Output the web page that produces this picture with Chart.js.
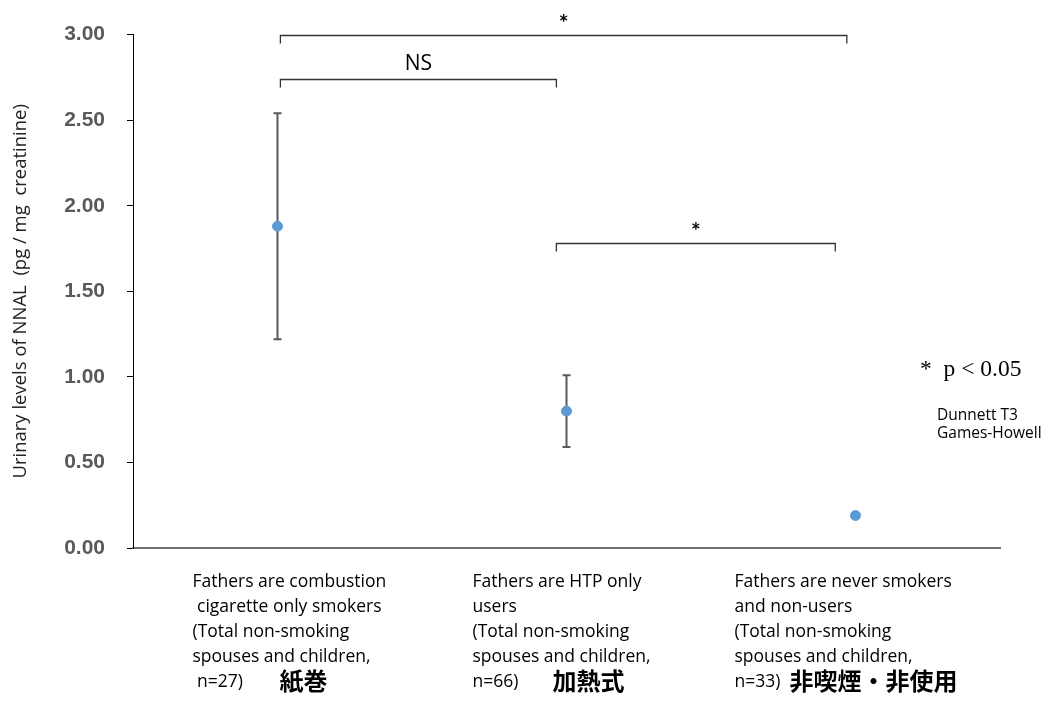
<!DOCTYPE html>
<html>
<head>
<meta charset="utf-8">
<script src="https://cdn.jsdelivr.net/npm/chart.js@4.4.1/dist/chart.umd.min.js"></script>
<style>
    html, body { margin: 0; padding: 0; background: #fff; }
    #wrap { width: 1049px; height: 706px; position: relative; }
</style>
</head>
<body>
<div id="wrap"><canvas id="nnalChart"></canvas></div>
<script>
// ---- data ----
const groups = ['紙巻', '加熱式', '非喫煙・非使用'];
const groupLabels = [
    ['Fathers are combustion', ' cigarette only smokers', '(Total non-smoking', 'spouses and children,', ' n=27)'],
    ['Fathers are HTP only', 'users', '(Total non-smoking', 'spouses and children,', 'n=66)'],
    ['Fathers are never smokers', 'and non-users', '(Total non-smoking', 'spouses and children,', 'n=33)']
];
const means = [1.88, 0.80, 0.19];
const errLow = [1.22, 0.59, 0.18];
const errHigh = [2.54, 1.01, 0.20];
const yTicks = [0, 0.5, 1.0, 1.5, 2.0, 2.5, 3.0];

// comparisons: [from group, to group, bracket level, label]
const compFrom = [0, 0, 1];
const compTo = [2, 1, 2];
const compLevel = [3.00, 2.74, 1.78];
const compText = ['*', 'NS', '*'];

// ---- layout (pixels) ----
const labelOffsetX = [-85, -94, -121];   // left edge of the english label relative to group centre
const jpOffsetX = [2, -14, -66];         // left edge of the japanese label relative to group centre
const bracketInset = [[0.01, -0.03], [0.01, -0.035], [-0.035, -0.07]];

const pointColor = '#5b9bd5';
const errColor = '#595959';

const errorBars = {
    id: 'errorBars',
    beforeDatasetsDraw(chart) {
        const { ctx, scales: { x, y } } = chart;
        ctx.save();
        ctx.strokeStyle = errColor;
        ctx.lineWidth = 2;
        means.forEach((m, i) => {
            const px = x.getPixelForValue(i + 0.5);
            const top = y.getPixelForValue(errHigh[i]);
            const bot = y.getPixelForValue(errLow[i]);
            ctx.beginPath();
            ctx.moveTo(px, top); ctx.lineTo(px, bot);
            ctx.moveTo(px - 4, top); ctx.lineTo(px + 4, top);
            ctx.moveTo(px - 4, bot); ctx.lineTo(px + 4, bot);
            ctx.stroke();
        });
        ctx.restore();
    }
};

const annotations = {
    id: 'annotations',
    afterDraw(chart) {
        const { ctx, scales: { x, y } } = chart;
        ctx.save();

        // significance brackets
        ctx.strokeStyle = '#333';
        ctx.lineWidth = 1.3;
        ctx.fillStyle = '#000';
        ctx.textAlign = 'center';
        ctx.textBaseline = 'alphabetic';
        compFrom.forEach((f, i) => {
            const x1 = x.getPixelForValue(f + 0.5 + bracketInset[i][0]);
            const x2 = x.getPixelForValue(compTo[i] + 0.5 + bracketInset[i][1]);
            const by = Math.round(y.getPixelForValue(compLevel[i])) + 0.5;
            ctx.beginPath();
            ctx.moveTo(x1, by + 8); ctx.lineTo(x1, by); ctx.lineTo(x2, by); ctx.lineTo(x2, by + 8);
            ctx.stroke();
            const isStar = compText[i] === '*';
            ctx.font = isStar ? 'bold 23px Lato' : '21px "Open Sans"';
            ctx.fillText(compText[i], (x1 + x2) / 2, isStar ? by - 5 : by - 10);
        });

        // category labels under the axis
        const base = y.bottom;
        ctx.textAlign = 'left';
        ctx.textBaseline = 'middle';
        groups.forEach((g, i) => {
            const cx = x.getPixelForValue(i + 0.5);
            ctx.fillStyle = '#000';
            ctx.font = '17.5px "Open Sans"';
            groupLabels[i].forEach((line, j) => {
                ctx.fillText(line, cx + labelOffsetX[i], base + 34 + j * 25);
            });
            ctx.font = 'bold 24px "Noto Sans CJK JP"';
            ctx.fillText(g, cx + jpOffsetX[i], base + 133);
        });

        // significance note
        ctx.fillStyle = '#000';
        ctx.font = '23.5px "Liberation Serif"';
        ctx.fillText('*  p < 0.05', 920, 370);
        ctx.font = '15.5px "Open Sans"';
        ctx.fillText('Dunnett T3', 937, 416);
        ctx.fillText('Games-Howell', 937, 434);

        ctx.restore();
    }
};

new Chart(document.getElementById('nnalChart'), {
    type: 'scatter',
    data: {
        datasets: [{
            data: means.map((m, i) => ({ x: i + 0.5, y: m })),
            backgroundColor: pointColor,
            borderColor: pointColor,
            pointRadius: 5,
            pointHoverRadius: 5,
        }],
    },
    options: {
        responsive: true,
        maintainAspectRatio: false,
        animation: false,
        layout: { padding: { top: 33, right: 49, left: 0, bottom: 0 } },
        plugins: {
            legend: { display: false },
            tooltip: { enabled: false },
        },
        scales: {
            x: {
                type: 'linear',
                min: 0,
                max: groups.length,
                grid: { display: false },
                ticks: { display: false },
                border: { display: true, color: '#6f6f6f', width: 2 },
                afterFit: (s) => { s.height = 158; },
            },
            y: {
                min: 0,
                max: 3,
                afterBuildTicks: (s) => { s.ticks = yTicks.map(v => ({ value: v })); },
                grid: { drawOnChartArea: false, drawTicks: true, tickLength: 6, color: '#000' },
                border: { display: true, color: '#000', width: 1 },
                ticks: {
                    color: '#595959',
                    padding: 22,
                    font: { family: 'Liberation Sans', size: 21, weight: 'bold' },
                    callback: (v) => v.toFixed(2),
                },
                title: {
                    display: true,
                    text: 'Urinary levels of NNAL  (pg / mg  creatinine)',
                    color: '#222',
                    font: { family: 'Open Sans', size: 18.5 },
                    padding: { top: 10, bottom: 0 },
                },
                afterFit: (s) => { s.width = 133; },
            },
        },
    },
    plugins: [errorBars, annotations],
});
</script>
</body>
</html>
